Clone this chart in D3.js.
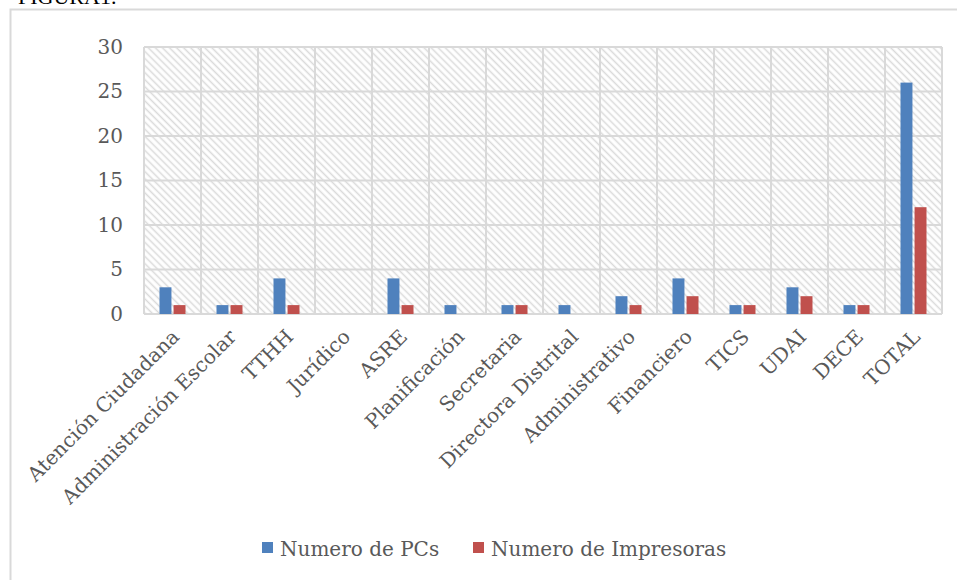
<!DOCTYPE html>
<html>
<head>
<meta charset="utf-8">
<script src="https://cdn.jsdelivr.net/npm/d3@7"></script>
<style>
  body { margin: 0; background: #fff; }
  svg text { font-family: "DejaVu Serif", serif; fill: #595959; }
</style>
</head>
<body>
<svg width="957" height="580"></svg>
<script>
var categories = ["Atención Ciudadana", "Administración Escolar", "TTHH", "Jurídico", "ASRE",
    "Planificación", "Secretaria", "Directora Distrital", "Administrativo", "Financiero",
    "TICS", "UDAI", "DECE", "TOTAL"];
var pcs = [3, 1, 4, 0, 4, 1, 1, 1, 2, 4, 1, 3, 1, 26];
var impresoras = [1, 1, 1, 0, 1, 0, 1, 0, 1, 2, 1, 2, 1, 12];
var yTicks = [0, 5, 10, 15, 20, 25, 30];
var seriesNames = ["Numero de PCs", "Numero de Impresoras"];
var colors = ["#4f81bd", "#c0504d"];

var svg = d3.select("svg");

// outer frame (partly off page like in the document)
svg.append("rect")
    .attr("x", 10.5).attr("y", 9.5)
    .attr("width", 1000).attr("height", 700)
    .attr("fill", "#fff")
    .attr("stroke", "#d9d9d9")
    .attr("stroke-width", 2);

svg.append("text")
    .attr("x", 18).attr("y", 4)
    .style("font-family", "Liberation Serif, serif")
    .style("font-size", "22px")
    .style("fill", "#000")
    .text("FIGURA1.");

var margin = { left: 144, right: 15, top: 47 };
var width = 942 - margin.left, height = 314 - margin.top;

var defs = svg.append("defs");
var pat = defs.append("pattern")
    .attr("id", "hatch")
    .attr("patternUnits", "userSpaceOnUse")
    .attr("width", 5).attr("height", 5)
    .attr("patternTransform", "rotate(45)");
pat.append("rect").attr("width", 5).attr("height", 5).attr("fill", "#fff");
pat.append("line")
    .attr("x1", 0).attr("y1", 2.5).attr("x2", 5).attr("y2", 2.5)
    .attr("stroke", "#dadada").attr("stroke-width", 1.5);

var g = svg.append("g").attr("transform", "translate(" + margin.left + "," + margin.top + ")");

var x = d3.scaleBand().domain(categories).range([0, width]);
var y = d3.scaleLinear().domain([0, 30]).range([height, 0]);

g.append("rect")
    .attr("width", width).attr("height", height)
    .attr("fill", "url(#hatch)");

// horizontal grid
g.selectAll(".hgrid").data(yTicks).enter().append("line")
    .attr("x1", 0).attr("x2", width)
    .attr("y1", function(d) { return y(d); })
    .attr("y2", function(d) { return y(d); })
    .attr("stroke", "#d9d9d9").attr("stroke-width", 2);

// vertical grid at category edges
var edges = categories.map(function(c) { return x(c); }).concat([width]);
g.selectAll(".vgrid").data(edges).enter().append("line")
    .attr("x1", function(d) { return d; }).attr("x2", function(d) { return d; })
    .attr("y1", 0).attr("y2", height)
    .attr("stroke", "#d9d9d9").attr("stroke-width", 2);

var yAxis = d3.axisLeft(y).tickValues(yTicks).tickSize(0).tickPadding(21);
g.append("g").call(yAxis)
    .call(function(s) { s.select(".domain").remove(); })
    .selectAll("text")
    .style("font-size", "20px")
    .attr("fill", "#595959");

var inner = d3.scaleBand().domain([0, 1]).range([-13, 13]).paddingInner(0.15);

var data = [pcs, impresoras];
data.forEach(function(vals, si) {
    g.selectAll(".bar" + si).data(vals).enter().append("rect")
        .attr("x", function(d, i) { return x(categories[i]) + x.bandwidth() / 2 + inner(si); })
        .attr("width", inner.bandwidth())
        .attr("y", function(d) { return y(d); })
        .attr("height", function(d) { return height - y(d); })
        .attr("fill", colors[si]);
});

// x labels rotated
var xAxis = d3.axisBottom(x).tickSize(0).tickPadding(0);
g.append("g").attr("transform", "translate(0," + height + ")").call(xAxis)
    .call(function(s) { s.select(".domain").remove(); })
    .selectAll("text")
    .style("font-size", "20px")
    .attr("fill", "#595959")
    .attr("text-anchor", "end")
    .attr("dy", 0)
    .attr("transform", "translate(8,24) rotate(-45)");

// legend
var legend = svg.append("g");
var lx = [262, 473];
seriesNames.forEach(function(n, i) {
    legend.append("rect")
        .attr("x", lx[i]).attr("y", 542)
        .attr("width", 11).attr("height", 11)
        .attr("fill", colors[i]);
    legend.append("text")
        .attr("x", lx[i] + 18).attr("y", 556)
        .style("font-size", "20px")
        .text(n);
});
</script>
</body>
</html>
